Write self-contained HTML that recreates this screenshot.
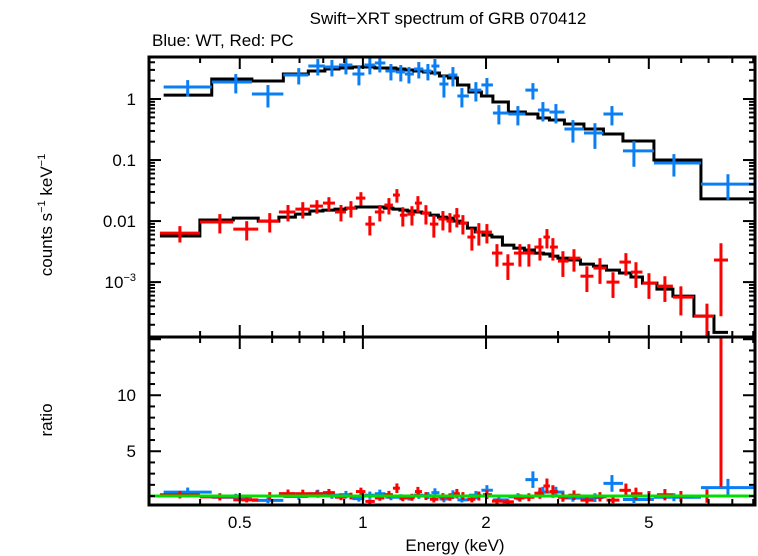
<!DOCTYPE html>
<html><head><meta charset="utf-8"><style>
body{margin:0;background:#fff;}
svg{display:block;font-family:"Liberation Sans",sans-serif;}
</style></head><body>
<svg id="chart" width="758" height="556" viewBox="0 0 758 556" xmlns="http://www.w3.org/2000/svg">
<defs>
<clipPath id="clipTop"><rect x="149" y="57" width="606" height="280"/></clipPath>
<clipPath id="clipBot"><rect x="149" y="337" width="606" height="168"/></clipPath>
</defs>
<text x="448" y="24" font-size="17" text-anchor="middle">Swift−XRT spectrum of GRB 070412</text>
<text x="152" y="46" font-size="17">Blue: WT, Red: PC</text>
<text transform="translate(52,215) rotate(-90)" font-size="17" text-anchor="middle">counts s<tspan font-size="11" dy="-7">−1</tspan><tspan dy="7"> keV</tspan><tspan font-size="11" dy="-7">−1</tspan></text>
<text transform="translate(52,420) rotate(-90)" font-size="17" text-anchor="middle">ratio</text>
<text x="455" y="551" font-size="17" text-anchor="middle">Energy (keV)</text>
<g id="gTop" clip-path="url(#clipTop)"></g>
<g id="gBot" clip-path="url(#clipBot)"></g>
<g id="gAxes"></g>
</svg>
<script>
const blueE=[0.373,0.489,0.586,0.697,0.776,0.840,0.909,0.978,1.040,1.100,1.171,1.238,1.296,1.370,1.442,1.500,1.578,1.660,1.746,1.889,2.010,2.150,2.393,2.604,2.755,2.964,3.262,3.692,4.063,4.598,5.759,7.806];
const blueFlux=[1.57,1.90,1.21,2.47,3.47,3.35,3.61,2.57,3.61,3.89,2.88,2.77,2.57,3.10,2.88,3.47,1.76,2.47,1.12,1.40,1.70,0.589,0.568,1.40,0.66,0.612,0.322,0.277,0.568,0.141,0.0893,0.0404];
const blueModel=[1.16,2.13,1.97,2.57,2.88,3.10,3.22,3.35,3.35,3.22,3.22,3.10,2.99,2.88,2.77,2.67,2.38,2.21,1.70,1.30,1.12,0.893,0.612,0.568,0.488,0.452,0.389,0.322,0.267,0.205,0.100,0.0231];
const blueRelErr=[0.3,0.35,0.4,0.3,0.3,0.3,0.3,0.35,0.3,0.3,0.3,0.3,0.3,0.3,0.3,0.3,0.4,0.35,0.35,0.35,0.3,0.35,0.35,0.3,0.35,0.35,0.4,0.45,0.35,0.45,0.4,0.45];
const redE=[0.357,0.447,0.520,0.592,0.656,0.713,0.772,0.826,0.884,0.935,0.989,1.040,1.100,1.158,1.211,1.252,1.318,1.363,1.426,1.491,1.569,1.632,1.697,1.756,1.847,1.921,2.010,2.127,2.262,2.420,2.546,2.709,2.818,2.914,3.083,3.281,3.529,3.798,4.087,4.395,4.651,5.004,5.474,5.990,6.936,7.506];
const redFlux=[0.00636,0.00964,0.00739,0.0100,0.0141,0.0157,0.0176,0.0197,0.0141,0.0163,0.0238,0.00893,0.0141,0.0183,0.0267,0.0125,0.0130,0.0197,0.0135,0.00893,0.0108,0.0100,0.0121,0.00927,0.00547,0.00661,0.00661,0.00299,0.00197,0.00299,0.00299,0.00375,0.00547,0.00375,0.00221,0.00247,0.00125,0.00170,0.00100,0.00213,0.00146,0.000964,0.000860,0.000568,0.000277,0.00230];
const redModel=[0.00568,0.0104,0.0112,0.0100,0.0116,0.0130,0.0146,0.0151,0.0157,0.0163,0.0170,0.0170,0.0170,0.0163,0.0157,0.0151,0.0146,0.0141,0.0135,0.0125,0.0116,0.0112,0.0100,0.00927,0.00768,0.00661,0.00589,0.00547,0.00404,0.00361,0.00335,0.00299,0.00288,0.00267,0.00247,0.00230,0.00197,0.00183,0.00157,0.00141,0.00121,0.000964,0.000768,0.000589,0.000277,0.000150];
const redRelErr=[0.3,0.35,0.35,0.35,0.3,0.3,0.25,0.25,0.3,0.3,0.25,0.35,0.3,0.3,0.25,0.35,0.35,0.3,0.35,0.4,0.35,0.35,0.35,0.35,0.4,0.4,0.35,0.4,0.45,0.4,0.4,0.4,0.35,0.4,0.45,0.4,0.45,0.45,0.45,0.4,0.45,0.45,0.45,0.5,0.6,0.88];
const xTickMajor=[0.5,1,2,5];
const xTickLabels=["0.5","1","2","5"];
const xTickMinor=[0.3,0.4,0.6,0.7,0.8,0.9,3,4,6,7,8,9];
const yTopMajor=[0.001,0.01,0.1,1];
const yTopLabels=["10^-3","0.01","0.1","1"];
const ratioMajor=[5,10];
const ratioLabels=["5","10"];

const NS="http://www.w3.org/2000/svg";
const X0=149,X1=755,EMIN=0.3,EMAX=9.09;
const YT0=57,YT1=337,FMAX=4.88,FMIN=1.26e-4;
const YB0=337,YB1=505,RMAX=15.2,RMIN=0.2;
const L=Math.log10;
function xs(e){return X0+(L(e)-L(EMIN))/(L(EMAX)-L(EMIN))*(X1-X0);}
function ys(f){return YT0+(L(FMAX)-L(Math.max(f,1e-9)))/(L(FMAX)-L(FMIN))*(YT1-YT0);}
function yr(r){return YB0+(RMAX-r)/(RMAX-RMIN)*(YB1-YB0);}
function line(g,x1,y1,x2,y2,c,w){const l=document.createElementNS(NS,'line');l.setAttribute('x1',x1);l.setAttribute('y1',y1);l.setAttribute('x2',x2);l.setAttribute('y2',y2);l.setAttribute('stroke',c);l.setAttribute('stroke-width',w);g.appendChild(l);return l;}
function edges(E){const n=E.length,lo=[],hi=[];for(let i=0;i<n;i++){const a=i>0?Math.sqrt(E[i-1]*E[i]):E[i]*E[i]/Math.sqrt(E[i]*E[i+1]);const b=i<n-1?Math.sqrt(E[i]*E[i+1]):E[i]*E[i]/Math.sqrt(E[i-1]*E[i]);lo.push(a);hi.push(b);}return [lo,hi];}
const gTop=document.getElementById('gTop'),gBot=document.getElementById('gBot'),gAx=document.getElementById('gAxes');

function drawSeries(E,F,M,R,color,name){
  const [lo,hi]=edges(E);
  let d='';
  for(let i=0;i<E.length;i++){const xa=xs(lo[i]),xb=xs(hi[i]),y=ys(M[i]);d+=(i===0?'M':'L')+xa+' '+y+' L'+xb+' '+y+' ';}
  const p=document.createElementNS(NS,'path');p.setAttribute('d',d);p.setAttribute('fill','none');p.setAttribute('stroke','#000');p.setAttribute('stroke-width','3');
  
  
  gTop.appendChild(p);
  for(let i=0;i<E.length;i++){
    const g=document.createElementNS(NS,'g');
    
    
    const xc=xs(E[i]),y=ys(F[i]);
    line(g,xs(lo[i]),y,xs(hi[i]),y,color,3);
    line(g,xc,ys(F[i]*(1+R[i])),xc,ys(F[i]*(1-R[i])),color,3);
    gTop.appendChild(g);
    const gr=document.createElementNS(NS,'g');
    
    
    const r=F[i]/M[i],yy=yr(r);
    line(gr,xs(lo[i]),yy,xs(hi[i]),yy,color,3);
    line(gr,xc,yr(r*(1+R[i])),xc,yr(r*(1-R[i])),color,3);
    gBot.appendChild(gr);
  }
}
drawSeries(blueE,blueFlux,blueModel,blueRelErr,'#0a7ff5','blue-wt');
drawSeries(redE,redFlux,redModel,redRelErr,'#ff0000','red-pc');
const gl=line(gBot,X0,yr(1),X1,yr(1),'#00dd00',3);



[[YT0,YT1,'top-panel-frame'],[YB0,YB1,'bottom-panel-frame']].forEach(([a,b,n])=>{
  const r=document.createElementNS(NS,'rect');r.setAttribute('x',X0);r.setAttribute('y',a);r.setAttribute('width',X1-X0);r.setAttribute('height',b-a);r.setAttribute('fill','none');r.setAttribute('stroke','#000');r.setAttribute('stroke-width','3');
  
  
  gAx.appendChild(r);
});
xTickMajor.forEach(e=>{const x=xs(e);[[YT0,1],[YT1,-1],[YB0,1],[YB1,-1]].forEach(([y,s])=>line(gAx,x,y,x,y+s*12,'#000',2));});
xTickMinor.forEach(e=>{const x=xs(e);[[YT0,1],[YT1,-1],[YB0,1],[YB1,-1]].forEach(([y,s])=>line(gAx,x,y,x,y+s*6,'#000',2));});
xTickLabels.forEach((t,i)=>{const tx=document.createElementNS(NS,'text');tx.setAttribute('x',xs(xTickMajor[i]));tx.setAttribute('y',528);tx.setAttribute('font-size','17');tx.setAttribute('text-anchor','middle');tx.textContent=t;
  
  
  gAx.appendChild(tx);});
for(let dec=-4;dec<=0;dec++){for(let m=1;m<=9;m++){const v=m*Math.pow(10,dec);if(v<FMIN||v>FMAX)continue;const y=ys(v);const len=m===1?12:6;line(gAx,X0,y,X0+len,y,'#000',2);line(gAx,X1,y,X1-len,y,'#000',2);}}
yTopLabels.forEach((t,i)=>{const tx=document.createElementNS(NS,'text');tx.setAttribute('x',136);tx.setAttribute('y',ys(yTopMajor[i])+6);tx.setAttribute('font-size','17');tx.setAttribute('text-anchor','end');
  if(t.indexOf('^')>=0){const p=t.split('^');tx.textContent=p[0];const ts=document.createElementNS(NS,'tspan');ts.setAttribute('font-size','11');ts.setAttribute('dy','-7');ts.textContent=p[1].replace('-','−');tx.appendChild(ts);}
  else tx.textContent=t;
  
  
  gAx.appendChild(tx);});
for(let v=1;v<=15;v++){const y=yr(v);const len=(v%5===0)?12:6;line(gAx,X0,y,X0+len,y,'#000',2);line(gAx,X1,y,X1-len,y,'#000',2);}
ratioLabels.forEach((t,i)=>{const tx=document.createElementNS(NS,'text');tx.setAttribute('x',136);tx.setAttribute('y',yr(ratioMajor[i])+6);tx.setAttribute('font-size','17');tx.setAttribute('text-anchor','end');tx.textContent=t;
  
  
  gAx.appendChild(tx);});
</script>
</body></html>
